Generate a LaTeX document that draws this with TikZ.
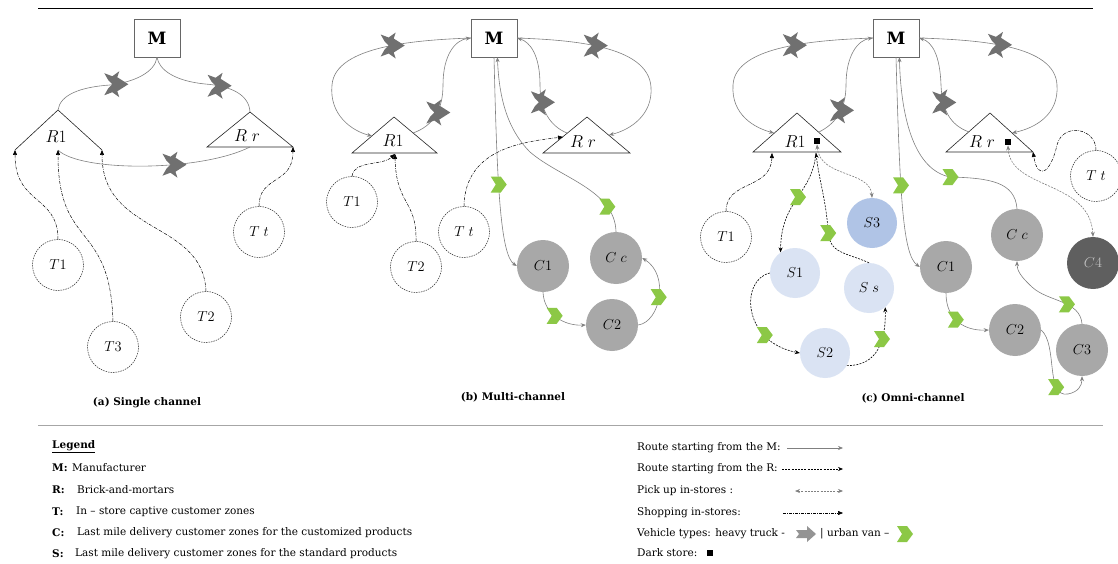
\documentclass[tikz,border=0pt]{standalone}
\usepackage{fontspec}
\setmainfont{DejaVu Serif}
\usetikzlibrary{arrows.meta,decorations.markings}
\definecolor{rgray}{RGB}{128,128,128}
\definecolor{trk}{RGB}{112,112,112}
\definecolor{vang}{RGB}{140,200,70}
\definecolor{cfill}{RGB}{168,168,168}
\definecolor{cdark}{RGB}{95,95,95}
\definecolor{slight}{RGB}{218,227,243}
\definecolor{sdark}{RGB}{176,196,230}
\tikzset{
 truckpic/.pic={\fill[trk] (13,0) -- (2,7) -- (4,13) -- (-3,8) -- (-11,11) -- (-7,4) -- (-3,0) -- (-7,-4) -- (-11,-11) -- (-3,-8) -- (4,-13) -- (2,-7) -- cycle;},
 vanpic/.pic={\fill[vang] (-8,8) -- (2,8) -- (8,0) -- (2,-8) -- (-8,-8) -- (-3,0) -- cycle;},
 legtruckpic/.pic={\fill[trk!75] (-10,-4) -- (1,-4) -- (1,-8) -- (10,0) -- (1,8) -- (1,4) -- (-10,4) -- (-7,0) -- cycle;},
 truckat/.style={postaction={decorate,decoration={markings,mark=at position #1 with {\pic{truckpic};}}}},
 vanat/.style={postaction={decorate,decoration={markings,mark=at position #1 with {\pic{vanpic};}}}},
 arrtip/.style={-{Stealth[length=5pt,width=4pt]}},
 mline/.style={rgray, line width=0.6pt},
 mroute/.style={rgray, line width=0.6pt, arrtip},
 rroute/.style={black, line width=0.6pt, dash pattern=on 2pt off 1.2pt, arrtip},
 pickup/.style={rgray, line width=0.6pt, dash pattern=on 2pt off 1.2pt, {Stealth[length=5pt,width=4pt]}-{Stealth[length=5pt,width=4pt]}},
 shop/.style={black, line width=0.5pt, dash pattern=on 3pt off 1.2pt on 0.6pt off 1.2pt, -{Triangle[length=5pt,width=4pt]}},
 mbox/.style={draw=black!60, fill=white, minimum width=46pt, minimum height=38pt, inner sep=0pt, font=\fontsize{17}{19}\selectfont\bfseries},
 tri/.style={draw=black!85, line width=0.6pt, fill=white},
 tlbl/.style={inner sep=0pt, font=\fontsize{16.5}{18}\selectfont},
 tzone/.style={circle, draw=black!85, line width=0.5pt, dash pattern=on 1.5pt off 1pt, fill=white, minimum size=51pt, inner sep=0pt, font=\fontsize{14}{16}\selectfont},
 czone/.style={circle, fill=cfill, minimum size=52pt, inner sep=0pt, font=\fontsize{14}{16}\selectfont},
 szone/.style={circle, fill=slight, minimum size=50pt, inner sep=0pt, font=\fontsize{14}{16}\selectfont},
 dstore/.style={fill=black, minimum size=6.5pt, inner sep=0pt},
 captxt/.style={inner sep=0pt, font=\fontsize{10.5}{12}\selectfont\bfseries},
 legtxt/.style={anchor=west, inner sep=0pt, font=\fontsize{10.5}{12}\selectfont}
}
\begin{document}
\begin{tikzpicture}[x=1pt,y=-1pt]
\useasboundingbox (0,0) rectangle (1118,564);
\fill[white] (0,0) rectangle (1118,564);
% rules
\coordinate (ruleA1) at (38,8); \coordinate (ruleA2) at (1093,8);
\draw[black, line width=0.8pt] (ruleA1) -- (ruleA2);
\coordinate (ruleB1) at (38,425); \coordinate (ruleB2) at (1103,425);
\draw[black!35, line width=0.6pt] (ruleB1) -- (ruleB2);

%%%%%%%%%%%%%%%% (a)
\node[mbox] (aM) at (157,38) {M};
\coordinate (aR1t) at (58,110); \coordinate (aR1l) at (15,150); \coordinate (aR1r) at (102,150); \coordinate (aR1b) at (58,150);
\draw[tri, fill=none] (aR1l) -- (aR1t) -- (aR1r);
\node[tlbl] (aR1) at (56,137) {$R1$};
\coordinate (aRrt) at (250,112); \coordinate (aRrl) at (207,147); \coordinate (aRrr) at (293,147); \coordinate (aRrb) at (250,147);
\draw[tri] (aRrl) -- (aRrt) -- (aRrr) -- cycle;
\node[tlbl] (aRr) at (247,136) {$R\;r$};
\node[tzone] (aT1) at (58,265) {$T1$};
\node[tzone] (aT3) at (113,347) {$T3$};
\node[tzone] (aT2) at (206,317) {$T2$};
\node[tzone] (aTt) at (259,232) {$T\;t$};
\draw[mline, truckat=0.44] (aM.south) .. controls (155,72) and (135,82) .. (110,85) .. controls (80,87) and (60,95) .. (aR1t);
\draw[mline, truckat=0.38] (aRrt) .. controls (249,95) and (232,86) .. (205,84) .. controls (175,81) and (159,70) .. (aM.south);
\draw[mline, truckat=0.6] (aR1b) .. controls (80,172) and (200,172) .. (aRrb);
\draw[shop] (aT1.north) .. controls (58,195) and (15,205) .. (aR1l);
\draw[shop] (aT3.north) .. controls (110,220) and (58,250) .. (aR1b);
\draw[shop] (aT2.north) .. controls (203,220) and (102,235) .. (aR1r);
\draw[shop] (aTt.north) .. controls (259,175) and (293,185) .. (aRrr);
\node[captxt] (capa) at (147,403) {(a) Single channel};

%%%%%%%%%%%%%%%% (b)
\node[mbox] (bM) at (494,38) {M};
\coordinate (bR1t) at (394,117); \coordinate (bR1l) at (352,153); \coordinate (bR1r) at (437,153);
\draw[tri] (bR1l) -- (bR1t) -- (bR1r) -- cycle;
\node[tlbl] (bR1) at (393,141) {$R1$};
\coordinate (bRrt) at (587,117); \coordinate (bRrl) at (543,153); \coordinate (bRrr) at (630,153);
\draw[tri] (bRrl) -- (bRrt) -- (bRrr) -- cycle;
\node[tlbl] (bRr) at (583,142) {$R\;r$};
\coordinate (bR1w) at (372,136); \coordinate (bR1e) at (413,133); \coordinate (bR1b) at (395,154);
\coordinate (bRre) at (609,135); \coordinate (bRrw) at (567,133); \coordinate (bRrw2) at (563,137);
\node[tzone] (bT1) at (352,202) {$T1$};
\node[tzone] (bT2) at (416,267) {$T2$};
\node[tzone] (bTt) at (464,232) {$T\;t$};
\node[czone] (bC1) at (543,266) {$C1$};
\node[czone] (bCc) at (616,258) {$C\;c$};
\node[czone] (bC2) at (612,325) {$C2$};
\draw[mroute, truckat=0.35] (bM.west) .. controls (420,40) and (335,45) .. (332,85) .. controls (329,115) and (352,131) .. (bR1w);
\draw[mroute, truckat=0.27] (bR1e) .. controls (433,126) and (443,110) .. (443,85) .. controls (443,55) and (455,40) .. (bM.west);
\draw[mroute, truckat=0.35] (bM.east) .. controls (570,40) and (648,45) .. (651,87) .. controls (653,115) and (630,130) .. (bRre);
\draw[mroute, truckat=0.36] (bRrw) .. controls (550,126) and (540,110) .. (540,85) .. controls (540,55) and (530,42) .. (bM.east);
\draw[mroute, vanat=0.6] (bM.south) .. controls (497,180) and (500,255) .. (bC1.west);
\draw[mroute, vanat=0.12] (bCc.north) .. controls (615,190) and (560,178) .. (530,152) .. controls (506,128) and (499,95) .. (bM.-80);
\draw[mroute, vanat=0.45] (bC1.south) .. controls (544,315) and (565,326) .. (bC2.west);
\draw[mroute, vanat=0.45] (bC2.east) .. controls (660,322) and (670,275) .. (bCc.east);
\draw[shop] (bT1.north) .. controls (354,160) and (382,166) .. (bR1b);
\draw[shop] (bT2.north) .. controls (417,200) and (396,205) .. (bR1b);
\draw[shop] (bTt.north) .. controls (465,150) and (520,142) .. (bRrw2);
\node[captxt] (capb) at (513,397) {(b) Multi-channel};

%%%%%%%%%%%%%%%% (c)
\node[mbox] (cM) at (896,38) {M};
\coordinate (cR1t) at (797,113); \coordinate (cR1l) at (753,152); \coordinate (cR1r) at (841,152);
\draw[tri] (cR1l) -- (cR1t) -- (cR1r) -- cycle;
\node[tlbl] (cR1) at (795,142) {$R1$};
\node[dstore] (cR1d) at (817,141) {};
\coordinate (cRrt) at (990,113); \coordinate (cRrl) at (946,152); \coordinate (cRrr) at (1033,152);
\draw[tri] (cRrl) -- (cRrt) -- (cRrr) -- cycle;
\node[tlbl] (cRr) at (982,142) {$R\;r$};
\node[dstore] (cRrd) at (1008,142) {};
\coordinate (cR1w) at (774,133); \coordinate (cR1e) at (819,132); \coordinate (cR1b) at (772,153); \coordinate (cR1o) at (816,153);
\coordinate (cRre) at (1012,133); \coordinate (cRrw) at (969,132);
\node[tzone] (cT1) at (726,237) {$T1$};
\node[tzone] (cTt) at (1096,176) {$T\;t$};
\node[szone] (cS1) at (795,273) {$S1$};
\node[szone] (cSs) at (869,288) {$S\;s$};
\node[szone, fill=sdark] (cS3) at (872,223) {$S3$};
\node[szone] (cS2) at (825,353) {$S2$};
\node[czone] (cC1) at (946,267) {$C1$};
\node[czone] (cCc) at (1017,235) {$C\;c$};
\node[czone] (cC2) at (1015,330) {$C2$};
\node[czone] (cC3) at (1082,350) {$C3$};
\node[czone, fill=cdark, text=black!25] (cC4) at (1093,263) {$C4$};
\draw[mroute, truckat=0.35] (cM.west) .. controls (820,40) and (735,45) .. (733,85) .. controls (731,115) and (755,128) .. (cR1w);
\draw[mroute, truckat=0.27] (cR1e) .. controls (835,124) and (846,110) .. (846,85) .. controls (846,55) and (858,40) .. (cM.west);
\draw[mroute, truckat=0.35] (cM.east) .. controls (980,40) and (1055,45) .. (1057,85) .. controls (1059,115) and (1035,128) .. (cRre);
\draw[mroute, truckat=0.36] (cRrw) .. controls (950,125) and (942,110) .. (941,85) .. controls (940,55) and (932,42) .. (cM.east);
\draw[mroute, vanat=0.6] (cM.south) .. controls (900,200) and (903,255) .. (cC1.west);
\draw[mroute, vanat=0.37] (cCc.north) .. controls (1015,182) and (990,178) .. (950,177) .. controls (915,170) and (901,120) .. (cM.-80);
\draw[mroute, vanat=0.45] (cC1.south) .. controls (946,320) and (965,331) .. (cC2.west);
\draw[mroute, vanat=0.6] (cC2.east) .. controls (1058,345) and (1045,398) .. (1068,394) .. controls (1078,392) and (1082,386) .. (cC3.south);
\draw[mroute, vanat=0.27] (cC3.north) .. controls (1080,300) and (1048,302) .. (1032,287) .. controls (1020,276) and (1017,270) .. (cCc.south);
\draw[shop] (cT1.north) .. controls (726,180) and (771,190) .. (cR1b);
\draw[shop] (cTt.north) .. controls (1096,128) and (1063,122) .. (1057,145) .. controls (1051,172) and (1038,182) .. (cRrr);
\draw[pickup] (cR1d.south) .. controls (820,178) and (870,170) .. (cS3.north);
\draw[pickup] (cRrd.south) .. controls (1010,190) and (1090,180) .. (cC4.north);
\draw[rroute, vanat=0.45] (cR1o) .. controls (812,195) and (781,200) .. (cS1.125);
\draw[rroute, vanat=0.4] (cSs.north) .. controls (845,252) and (829,254) .. (828,230) .. controls (826,200) and (819,180) .. (cR1o);
\draw[rroute, vanat=0.65] (cS1.west) .. controls (740,280) and (742,342) .. (cS2.west);
\draw[rroute, vanat=0.6] (cS2.-30) .. controls (878,366) and (886,340) .. (cSs.-50);
\node[captxt] (capc) at (913,398) {(c) Omni-channel};

%%%%%%%%%%%%%%%% legend left
\node[legtxt] (lgh) at (52,447) {\bfseries\underline{Legend}};
\node[legtxt] (lgM) at (52,468) {\bfseries M:};
\node[legtxt] (lgMt) at (72,468) {Manufacturer};
\node[legtxt] (lgR) at (52,490) {\bfseries R:};
\node[legtxt] (lgRt) at (77,490) {Brick-and-mortars};
\node[legtxt] (lgT) at (52,512) {\bfseries T:};
\node[legtxt] (lgTt) at (76,512) {In – store captive customer zones};
\node[legtxt] (lgC) at (52,533) {\bfseries C:};
\node[legtxt] (lgCt) at (77,533) {Last mile delivery customer zones for the customized products};
\node[legtxt] (lgS) at (52,554) {\bfseries S:};
\node[legtxt] (lgSt) at (75,554) {Last mile delivery customer zones for the standard products};

%%%%%%%%%%%%%%%% legend right
\node[legtxt] (lr1) at (637,448) {Route starting from the M:};
\coordinate (lr1a) at (787,448); \coordinate (lr1b) at (843,448);
\draw[mroute] (lr1a) -- (lr1b);
\node[legtxt] (lr2) at (637,469) {Route starting from the R:};
\coordinate (lr2a) at (782,469); \coordinate (lr2b) at (843,469);
\draw[rroute] (lr2a) -- (lr2b);
\node[legtxt] (lr3) at (637,491) {Pick up in-stores :};
\coordinate (lr3a) at (795,491); \coordinate (lr3b) at (843,491);
\draw[pickup] (lr3a) -- (lr3b);
\node[legtxt] (lr4) at (637,513) {Shopping in-stores:};
\coordinate (lr4a) at (783,513); \coordinate (lr4b) at (843,513);
\draw[shop] (lr4a) -- (lr4b);
\node[legtxt] (lr5) at (637,534) {Vehicle types: heavy truck -};
\pic at (806,534) {legtruckpic};
\node[legtxt] (lr5b) at (820,534) {| urban van –};
\pic at (905,534) {vanpic};
\node[legtxt] (lr6) at (637,553) {Dark store:};
\node[dstore] (lr6b) at (710,553) {};
\end{tikzpicture}
\end{document}
